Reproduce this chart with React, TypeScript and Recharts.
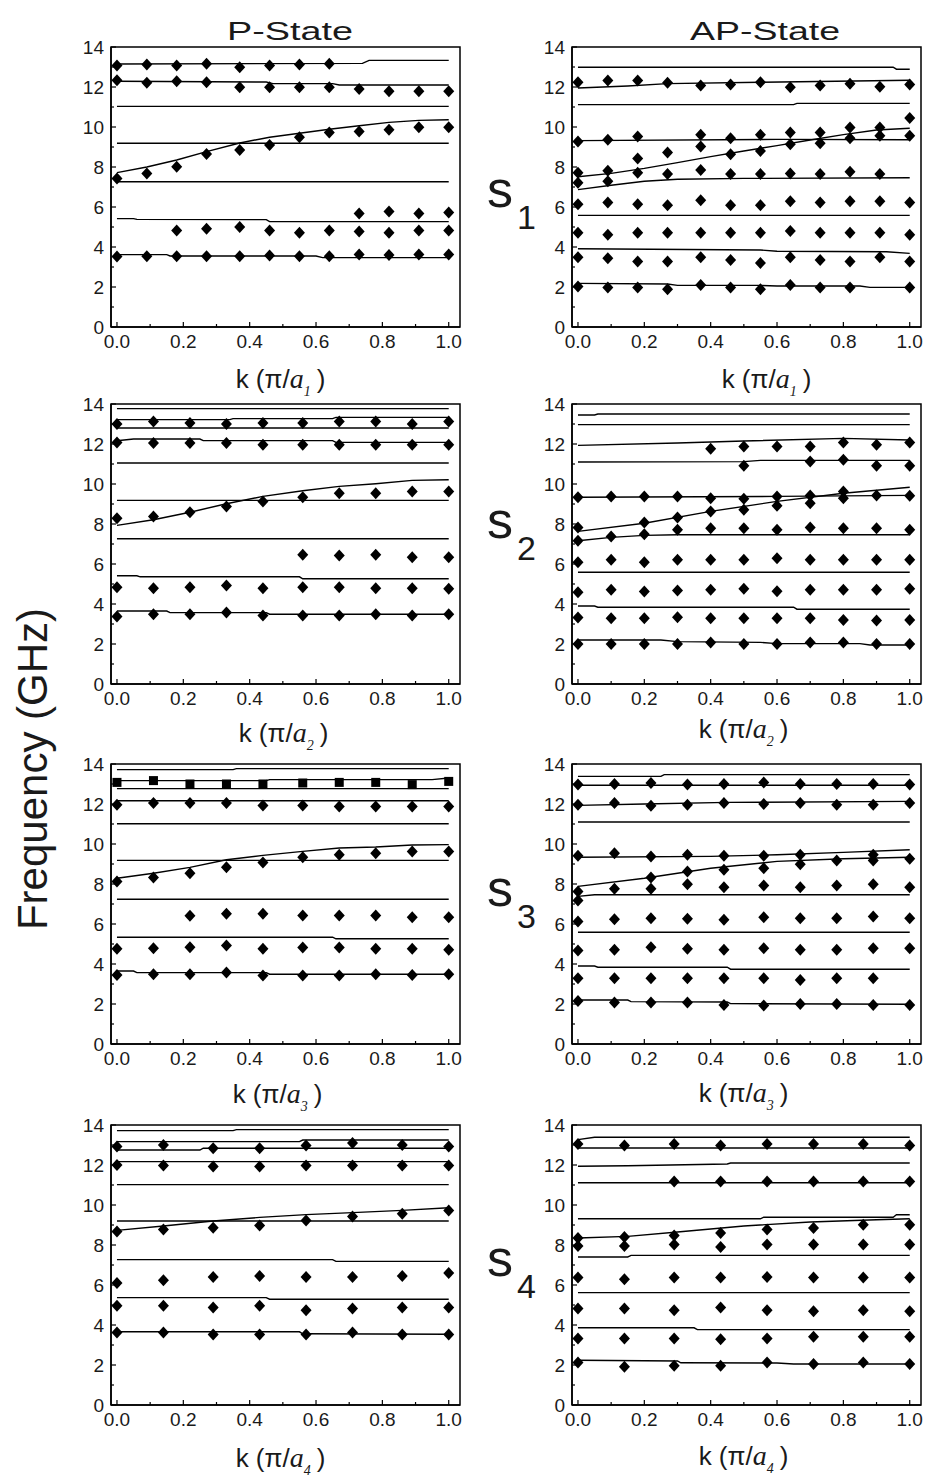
import React from "react";
import { ScatterChart, Scatter, XAxis, YAxis, ReferenceArea, Label } from "recharts";

// axis setup
const X_MIN = -0.018;
const X_MAX = 1.034;
const X_TICKS = [0, 0.1, 0.2, 0.3, 0.4, 0.5, 0.6, 0.7, 0.8, 0.9, 1.0];
const Y_TICKS = [0, 1, 2, 3, 4, 5, 6, 7, 8, 9, 10, 11, 12, 13, 14];

// measured k points
const K_A = [0, 0.09, 0.18, 0.27, 0.37, 0.46, 0.55, 0.64, 0.73, 0.82, 0.91, 1.0];
const K_B = [0, 0.11, 0.22, 0.33, 0.44, 0.56, 0.67, 0.78, 0.89, 1.0];
const K_C = [0, 0.1, 0.2, 0.3, 0.4, 0.5, 0.6, 0.7, 0.8, 0.9, 1.0];
const K_D = [0, 0.14, 0.29, 0.43, 0.57, 0.71, 0.86, 1.0];

const _ = null;

// ---- s1, P-State ----
const P1_LINES = [
  [[0, 13.15], [0.74, 13.18], [0.76, 13.33], [1, 13.33]],
  [[0, 12.29], [0.45, 12.25], [0.47, 12.17], [0.65, 12.17], [0.67, 12.1], [1, 12.1]],
  [[0, 11.03], [1, 11.03]],
  [[0, 7.72], [0.09, 8.0], [0.18, 8.35], [0.27, 8.77], [0.37, 9.2], [0.46, 9.49], [0.55, 9.69], [0.64, 9.89], [0.73, 10.06], [0.82, 10.23], [0.91, 10.33], [1, 10.36]],
  [[0, 9.19], [1, 9.19]],
  [[0, 7.26], [1, 7.26]],
  [[0, 5.42], [0.05, 5.42], [0.06, 5.38], [0.45, 5.37], [0.46, 5.27], [1, 5.27]],
  [[0, 3.62], [0.15, 3.62], [0.16, 3.55], [0.6, 3.55], [0.62, 3.47], [1, 3.47]],
];
const P1_DOTS = [
  [13.08, 13.13, 13.08, 13.16, 12.99, 13.08, 13.13, 13.16, _, _, _, _],
  [12.34, 12.21, 12.29, 12.24, 11.99, 11.99, 11.99, 11.99, 11.9, 11.79, 11.79, 11.79],
  [7.43, 7.68, 8.01, 8.65, 8.85, 9.1, 9.49, 9.72, 9.78, 9.86, 9.99, 9.99],
  [_, _, _, _, _, _, _, _, 5.67, 5.78, 5.67, 5.72],
  [_, _, 4.83, 4.91, 5.0, 4.83, 4.71, 4.83, 4.78, 4.71, 4.83, 4.83],
  [3.52, 3.54, 3.54, 3.54, 3.54, 3.57, 3.54, 3.54, 3.62, 3.6, 3.62, 3.62],
];

// ---- s1, AP-State ----
const AP1_LINES = [
  [[0, 12.99], [0.95, 12.99], [0.96, 12.89], [1, 12.89]],
  [[0, 11.95], [0.15, 12.05], [0.27, 12.17], [0.55, 12.24], [1, 12.34]],
  [[0, 11.12], [0.65, 11.12], [0.66, 11.18], [1, 11.18]],
  [[0, 9.32], [0.6, 9.38], [1, 9.36]],
  [[0, 7.51], [0.1, 7.68], [0.2, 7.93], [0.3, 8.22], [0.4, 8.52], [0.5, 8.8], [0.6, 9.07], [0.7, 9.35], [0.8, 9.62], [0.9, 9.85], [1, 9.94]],
  [[0, 6.87], [0.1, 7.09], [0.2, 7.29], [0.3, 7.39], [0.5, 7.43], [1, 7.46]],
  [[0, 5.58], [1, 5.58]],
  [[0, 3.91], [0.55, 3.85], [0.6, 3.79], [0.93, 3.76], [1, 3.68]],
  [[0, 2.18], [0.27, 2.15], [0.3, 2.08], [0.55, 2.08], [0.6, 2.05], [0.85, 2.05], [0.88, 1.98], [1, 1.98]],
];
const AP1_DOTS = [
  [12.24, 12.32, 12.32, 12.21, 12.07, 12.12, 12.24, 11.99, 12.07, 12.16, 12.01, 12.12],
  [9.27, 9.36, 9.52, _, 9.61, 9.44, 9.61, 9.72, 9.72, 9.98, 9.98, 10.45],
  [_, _, _, _, 9.02, _, _, 9.14, 9.19, 9.44, 9.56, 9.56],
  [_, _, 8.43, 8.72, _, 8.64, 8.8, _, _, _, _, _],
  [7.71, 7.81, 7.71, 7.65, 7.85, 7.65, 7.65, 7.68, 7.65, 7.76, 7.65, _],
  [7.21, 7.29, _, _, _, _, _, _, _, _, _, _],
  [6.14, 6.22, 6.14, 6.09, 6.34, 6.09, 6.09, 6.29, 6.22, 6.29, 6.29, 6.22],
  [4.71, 4.61, 4.71, 4.71, 4.71, 4.71, 4.71, 4.8, 4.71, 4.71, 4.71, 4.61],
  [3.49, 3.44, 3.27, 3.27, 3.49, 3.35, 3.2, 3.49, 3.35, 3.27, 3.49, 3.27],
  [2.03, 1.98, 1.98, 1.89, 2.1, 1.98, 1.89, 2.1, 1.98, 1.98, _, 1.98],
];

// ---- s2, P-State ----
const P2_LINES = [
  [[0, 13.77], [1, 13.77]],
  [[0, 13.22], [0.34, 13.22], [0.35, 13.27], [0.65, 13.27], [0.66, 13.33], [1, 13.33]],
  [[0, 12.8], [1, 12.8]],
  [[0, 12.16], [0.05, 12.25], [0.25, 12.25], [0.26, 12.17], [0.65, 12.17], [0.66, 12.08], [1, 12.08]],
  [[0, 11.05], [1, 11.05]],
  [[0, 7.93], [0.11, 8.21], [0.22, 8.59], [0.33, 9.01], [0.44, 9.38], [0.56, 9.66], [0.67, 9.88], [0.78, 10.01], [0.89, 10.18], [1, 10.21]],
  [[0, 9.18], [1, 9.18]],
  [[0, 7.26], [1, 7.26]],
  [[0, 5.41], [0.06, 5.41], [0.07, 5.36], [0.55, 5.36], [0.56, 5.26], [1, 5.26]],
  [[0, 3.65], [0.15, 3.65], [0.16, 3.57], [0.45, 3.57], [0.46, 3.49], [1, 3.49]],
];
const P2_DOTS = [
  [13.0, 13.13, 13.05, 13.0, 13.05, 13.05, 13.13, 13.13, 13.0, 13.13],
  [12.08, 12.05, 12.05, 12.05, 11.96, 11.96, 11.96, 11.96, 11.96, 11.96],
  [8.29, 8.38, 8.59, 8.88, 9.13, 9.34, 9.54, 9.54, 9.63, 9.63],
  [_, _, _, _, _, 6.46, 6.42, 6.46, 6.34, 6.34],
  [4.84, 4.79, 4.84, 4.92, 4.79, 4.84, 4.84, 4.79, 4.79, 4.76],
  [3.37, 3.49, 3.49, 3.57, 3.42, 3.42, 3.42, 3.49, 3.42, 3.49],
];

// ---- s2, AP-State ----
const AP2_LINES = [
  [[0, 13.45], [0.05, 13.45], [0.06, 13.5], [1, 13.5]],
  [[0, 12.97], [1, 12.97]],
  [[0, 11.93], [0.3, 12.05], [0.5, 12.15], [0.8, 12.28], [1, 12.2]],
  [[0, 11.1], [0.5, 11.12], [0.55, 11.18], [1, 11.18]],
  [[0, 9.34], [0.6, 9.38], [1, 9.43]],
  [[0, 7.63], [0.2, 8.04], [0.4, 8.63], [0.6, 9.13], [0.8, 9.54], [1, 9.84]],
  [[0, 7.16], [0.1, 7.33], [0.2, 7.43], [0.3, 7.46], [1, 7.46]],
  [[0, 5.59], [1, 5.59]],
  [[0, 3.9], [0.05, 3.9], [0.06, 3.84], [0.65, 3.84], [0.66, 3.74], [1, 3.74]],
  [[0, 2.2], [0.25, 2.2], [0.3, 2.12], [0.55, 2.08], [0.6, 2.02], [0.85, 2.02], [0.88, 1.95], [1, 1.95]],
];
const AP2_DOTS = [
  [_, _, _, _, 11.76, 11.88, 11.88, 11.88, 12.08, 11.96, 12.08],
  [_, _, _, _, _, 10.91, _, 11.13, 11.21, 10.91, 10.91],
  [9.34, 9.38, 9.38, 9.38, 9.29, 9.26, 9.38, 9.43, 9.63, 9.43, 9.41],
  [_, _, 8.08, 8.33, 8.63, 8.71, 8.91, 9.04, 9.29, _, _],
  [7.83, _, _, 7.71, 7.79, 7.79, 7.71, 7.83, 7.79, 7.79, 7.71],
  [7.16, 7.38, 7.49, _, _, _, _, _, _, _, _],
  [6.09, 6.21, 6.09, 6.21, 6.21, 6.21, 6.29, 6.21, 6.21, 6.21, 6.21],
  [4.59, 4.71, 4.62, 4.67, 4.71, 4.76, 4.64, 4.71, 4.71, 4.71, 4.76],
  [3.32, 3.29, 3.29, 3.34, 3.29, 3.29, 3.29, 3.29, 3.2, 3.17, 3.2],
  [2.0, 2.0, 2.0, 2.0, 2.07, 2.0, 2.0, 2.07, 2.07, 2.0, 2.0],
];

// ---- s3, P-State ----
const P3_LINES = [
  [[0, 13.72], [0.35, 13.72], [0.36, 13.77], [1, 13.77]],
  [[0, 13.17], [0.45, 13.17], [0.46, 13.22], [0.95, 13.22], [1, 13.3]],
  [[0, 12.77], [1, 12.77]],
  [[0, 12.16], [1, 12.16]],
  [[0, 11.01], [1, 11.01]],
  [[0, 8.29], [0.11, 8.54], [0.22, 8.83], [0.33, 9.21], [0.44, 9.43], [0.56, 9.63], [0.67, 9.8], [0.78, 9.85], [0.89, 9.95], [1, 9.97]],
  [[0, 9.18], [1, 9.18]],
  [[0, 7.24], [1, 7.24]],
  [[0, 5.34], [0.65, 5.34], [0.66, 5.26], [1, 5.26]],
  [[0, 3.65], [0.05, 3.65], [0.06, 3.57], [0.45, 3.57], [0.46, 3.49], [1, 3.49]],
];
const P3_DOTS = [
  [13.08, 13.17, 13.0, 13.0, 13.0, 13.05, 13.08, 13.08, 12.97, 13.13],
  [11.96, 12.05, 12.05, 12.05, 11.93, 11.93, 11.88, 11.88, 11.88, 11.88],
  [8.13, 8.33, 8.54, 8.84, 9.08, 9.34, 9.46, 9.54, 9.63, 9.63],
  [_, _, 6.41, 6.51, 6.51, 6.42, 6.42, 6.42, 6.34, 6.34],
  [4.76, 4.79, 4.84, 4.92, 4.76, 4.82, 4.82, 4.76, 4.76, 4.71],
  [3.45, 3.49, 3.49, 3.57, 3.42, 3.42, 3.42, 3.49, 3.45, 3.49],
];

// ---- s3, AP-State ----
const AP3_LINES = [
  [[0, 13.38], [0.25, 13.38], [0.26, 13.47], [1, 13.47]],
  [[0, 12.94], [1, 12.94]],
  [[0, 11.93], [0.2, 12.0], [0.45, 12.08], [1, 12.13]],
  [[0, 11.1], [1, 11.1]],
  [[0, 9.34], [0.4, 9.38], [0.6, 9.46], [0.8, 9.58], [1, 9.71]],
  [[0, 7.88], [0.2, 8.29], [0.4, 8.79], [0.6, 9.13], [0.8, 9.26], [1, 9.34]],
  [[0, 7.38], [0.05, 7.46], [1, 7.46]],
  [[0, 5.59], [1, 5.59]],
  [[0, 3.9], [0.05, 3.9], [0.06, 3.84], [0.45, 3.84], [0.46, 3.74], [1, 3.74]],
  [[0, 2.2], [0.15, 2.2], [0.16, 2.12], [0.45, 2.1], [0.46, 2.02], [1, 1.99]],
];
const AP3_DOTS = [
  [12.97, 13.0, 13.05, 12.97, 13.0, 13.08, 13.0, 13.0, 13.0, 12.97],
  [11.96, 12.05, 11.91, 11.96, 12.05, 12.0, 12.05, 11.96, 11.96, 12.05],
  [9.41, 9.54, 9.38, 9.46, 9.41, 9.41, 9.46, _, 9.46, _],
  [7.63, 7.76, 8.33, 8.63, 8.71, 8.79, 8.99, 9.18, 9.18, 9.26],
  [_, _, 7.76, 7.99, 7.84, 7.93, 7.84, 7.93, 7.99, 7.84],
  [7.17, _, _, _, _, _, _, _, _, _],
  [6.12, 6.24, 6.29, 6.26, 6.21, 6.34, 6.29, 6.29, 6.38, 6.29],
  [4.67, 4.71, 4.84, 4.76, 4.71, 4.79, 4.71, 4.71, 4.79, 4.79],
  [3.29, 3.29, 3.29, 3.29, 3.29, 3.29, 3.2, 3.29, 3.29, _],
  [2.15, 2.07, 2.07, 2.07, 1.95, 1.92, 2.0, 2.0, 1.95, 1.95],
];

// ---- s4, P-State ----
const P4_LINES = [
  [[0, 13.72], [0.35, 13.72], [0.36, 13.77], [1, 13.77]],
  [[0, 13.17], [0.55, 13.17], [0.56, 13.25], [1, 13.25]],
  [[0, 12.75], [0.25, 12.75], [0.26, 12.84], [1, 12.84]],
  [[0, 12.17], [1, 12.17]],
  [[0, 11.02], [1, 11.02]],
  [[0, 8.73], [0.14, 8.95], [0.29, 9.2], [0.43, 9.38], [0.57, 9.52], [0.71, 9.62], [0.86, 9.73], [1, 9.86]],
  [[0, 9.2], [1, 9.2]],
  [[0, 7.27], [0.65, 7.27], [0.66, 7.18], [1, 7.18]],
  [[0, 5.37], [0.45, 5.37], [0.46, 5.29], [1, 5.29]],
  [[0, 3.66], [0.55, 3.66], [0.56, 3.56], [1, 3.54]],
];
const P4_DOTS = [
  [12.92, 13.0, 12.84, 12.84, 12.97, 13.1, 13.0, 12.92],
  [12.0, 11.97, 11.92, 11.92, 11.97, 11.97, 11.97, 11.97],
  [8.68, 8.78, 8.86, 8.98, 9.23, 9.43, 9.56, 9.73],
  [6.1, 6.24, 6.4, 6.45, 6.4, 6.4, 6.45, 6.6],
  [4.96, 4.96, 4.87, 4.96, 4.74, 4.82, 4.87, 4.87],
  [3.62, 3.62, 3.53, 3.53, 3.53, 3.62, 3.53, 3.53],
];

// ---- s4, AP-State ----
const AP4_LINES = [
  [[0, 13.27], [0.05, 13.39], [1, 13.39]],
  [[0, 12.85], [1, 12.85]],
  [[0, 11.94], [0.15, 11.96], [0.45, 12.05], [0.46, 12.1], [1, 12.1]],
  [[0, 11.11], [1, 11.11]],
  [[0, 9.31], [0.55, 9.31], [0.56, 9.39], [0.95, 9.39], [0.96, 9.51], [1, 9.51]],
  [[0, 8.35], [0.15, 8.43], [0.3, 8.65], [0.5, 8.95], [0.7, 9.15], [0.9, 9.26], [1, 9.31]],
  [[0, 7.4], [0.15, 7.4], [0.16, 7.48], [1, 7.48]],
  [[0, 5.62], [1, 5.62]],
  [[0, 3.86], [0.35, 3.86], [0.36, 3.77], [1, 3.77]],
  [[0, 2.24], [0.3, 2.2], [0.31, 2.11], [0.6, 2.1], [0.65, 2.05], [1, 2.05]],
];
const AP4_DOTS = [
  [13.05, 12.97, 13.05, 12.97, 13.05, 13.05, 13.05, 12.97],
  [_, _, 11.17, 11.17, 11.17, 11.17, 11.17, 11.17],
  [8.35, 8.4, 8.48, 8.6, 8.78, 8.85, 9.01, 9.01],
  [7.95, 7.95, 8.03, 7.9, 8.03, 8.03, 8.03, 8.03],
  [6.37, 6.29, 6.37, 6.37, 6.4, 6.37, 6.37, 6.37],
  [4.82, 4.82, 4.74, 4.87, 4.74, 4.69, 4.74, 4.69],
  [3.33, 3.33, 3.33, 3.29, 3.33, 3.41, 3.41, 3.41],
  [2.13, 1.91, 1.96, 1.96, 2.13, 2.05, 2.13, 2.05],
];

const SANS = "'Liberation Sans', Arial, sans-serif";
const SERIF = "'Liberation Serif', 'Times New Roman', serif";
const INK = "#1a1a1a";

function XTick(props: any) {
  const { x, y, payload } = props;
  const v = payload.value;
  const major = Math.round(v * 10) % 2 === 0;
  return (
    <g>
      <line x1={x} y1={y} x2={x} y2={y - (major ? 5 : 3)} stroke="#000" strokeWidth={1.2} />
      {major && (
        <text x={x} y={y + 21} textAnchor="middle" fontSize={19} fill={INK} fontFamily={SANS}>
          {v.toFixed(1)}
        </text>
      )}
    </g>
  );
}

function YTick(props: any) {
  const { x, y, payload } = props;
  const v = payload.value;
  const major = v % 2 === 0;
  return (
    <g>
      <line x1={x} y1={y} x2={x + (major ? 5 : 3)} y2={y} stroke="#000" strokeWidth={1.2} />
      {major && (
        <text x={x - 7} y={y + 7} textAnchor="end" fontSize={19} fill={INK} fontFamily={SANS}>
          {v}
        </text>
      )}
    </g>
  );
}

function KLabel({ viewBox, sub, dx, dy }: any) {
  const cx = viewBox.x + viewBox.width / 2 + dx;
  const y = viewBox.y + dy;
  return (
    <text x={cx} y={y} textAnchor="middle" fontSize={26} fill={INK} fontFamily={SANS}>
      k (π/
      <tspan fontFamily={SERIF} fontStyle="italic" fontSize={28}>a</tspan>
      <tspan fontFamily={SERIF} fontStyle="italic" fontSize={14} dy={8}>{sub}</tspan>
      <tspan dy={-8} dx={6}>)</tspan>
    </text>
  );
}

const diamond = (p: any) => (
  <path d={`M${p.cx},${p.cy - 6}L${p.cx + 5.5},${p.cy}L${p.cx},${p.cy + 6}L${p.cx - 5.5},${p.cy}Z`} fill="#000" />
);
const square = (p: any) => <rect x={p.cx - 4.5} y={p.cy - 4.5} width={9} height={9} fill="#000" />;
const noMark = () => <g />;

const PLOT_W = 349;
const PLOT_H = 280;
const AXIS_H = 88;

function Panel({ left, top, ks, lines, dots, squares = [], sub, dx, dy }: any) {
  const lineSets = lines.map((l: number[][]) => l.map(([k, f]) => ({ k, f })));
  const dotSets = dots.map((row: (number | null)[]) =>
    row.map((f, i) => (f == null ? null : { k: ks[i], f })).filter(Boolean)
  );
  return (
    <div style={{ position: "absolute", left: left - 60, top: top - 10 }}>
      <ScatterChart width={60 + PLOT_W + 5} height={10 + PLOT_H + AXIS_H} margin={{ top: 10, right: 5, bottom: 0, left: 0 }}>
        <XAxis
          type="number"
          dataKey="k"
          domain={[X_MIN, X_MAX]}
          ticks={X_TICKS}
          interval={0}
          tickSize={0}
          tickMargin={0}
          tick={XTick}
          height={AXIS_H}
          allowDataOverflow
          axisLine={{ stroke: "#000", strokeWidth: 1.5 }}
        >
          <Label content={(p: any) => <KLabel viewBox={p.viewBox} sub={sub} dx={dx} dy={dy} />} />
        </XAxis>
        <YAxis
          type="number"
          dataKey="f"
          domain={[0, 14]}
          ticks={Y_TICKS}
          interval={0}
          tickSize={0}
          tickMargin={0}
          tick={YTick}
          width={60}
          allowDataOverflow
          axisLine={{ stroke: "#000", strokeWidth: 1.5 }}
        />
        <ReferenceArea x1={X_MIN} x2={X_MAX} y1={0} y2={14} fill="none" stroke="#000" strokeWidth={1.5} />
        {lineSets.map((d: any, i: number) => (
          <Scatter
            key={"l" + i}
            data={d}
            line={{ stroke: "#000", strokeWidth: 1.4 }}
            lineType="joint"
            shape={noMark}
            isAnimationActive={false}
          />
        ))}
        {dotSets.map((d: any, i: number) => (
          <Scatter
            key={"d" + i}
            data={d}
            shape={squares.includes(i) ? square : diamond}
            isAnimationActive={false}
          />
        ))}
      </ScatterChart>
    </div>
  );
}

const PANELS = [
  { left: 111, top: 47, ks: K_A, lines: P1_LINES, dots: P1_DOTS, sub: "1", dx: -5, dy: 61 },
  { left: 572, top: 47, ks: K_A, lines: AP1_LINES, dots: AP1_DOTS, sub: "1", dx: 20, dy: 61 },
  { left: 111, top: 404, ks: K_B, lines: P2_LINES, dots: P2_DOTS, sub: "2", dx: -2, dy: 58 },
  { left: 572, top: 404, ks: K_C, lines: AP2_LINES, dots: AP2_DOTS, sub: "2", dx: -3, dy: 54 },
  { left: 111, top: 764, ks: K_B, lines: P3_LINES, dots: P3_DOTS, squares: [0], sub: "3", dx: -8, dy: 59 },
  { left: 572, top: 764, ks: K_B, lines: AP3_LINES, dots: AP3_DOTS, sub: "3", dx: -3, dy: 58 },
  { left: 111, top: 1125, ks: K_D, lines: P4_LINES, dots: P4_DOTS, sub: "4", dx: -5, dy: 62 },
  { left: 572, top: 1125, ks: K_D, lines: AP4_LINES, dots: AP4_DOTS, sub: "4", dx: -3, dy: 60 },
];

const S_SUBS = ["1", "2", "3", "4"];
const S_BASELINES = [207, 538, 906, 1276];

export default function App() {
  return (
    <div style={{ position: "absolute", left: 0, top: 0, width: 926, height: 1479, background: "#fff", overflow: "hidden" }}>
      {PANELS.map((p, i) => (
        <Panel key={i} {...p} />
      ))}
      <svg width={926} height={1479} style={{ position: "absolute", left: 0, top: 0, pointerEvents: "none" }}>
        <text x={227} y={40} textLength={126} lengthAdjust="spacingAndGlyphs" fontSize={26} fill={INK} fontFamily={SANS}>
          P-State
        </text>
        <text x={690} y={40} textLength={150} lengthAdjust="spacingAndGlyphs" fontSize={26} fill={INK} fontFamily={SANS}>
          AP-State
        </text>
        <text transform="translate(47,769) rotate(-90)" textAnchor="middle" fontSize={42} fill={INK} fontFamily={SANS}>
          Frequency (GHz)
        </text>
        {S_SUBS.map((s, i) => (
          <g key={s}>
            <text x={487} y={S_BASELINES[i]} fontSize={52} fill={INK} fontFamily={SANS}>s</text>
            <text x={517} y={S_BASELINES[i] + 22} fontSize={34} fill={INK} fontFamily={SANS}>{s}</text>
          </g>
        ))}
      </svg>
    </div>
  );
}
